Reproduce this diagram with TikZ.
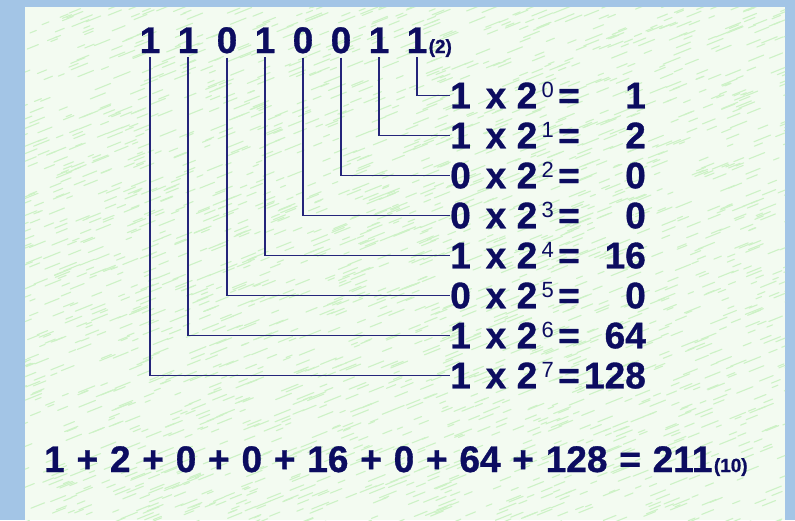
\documentclass[tikz,border=0pt]{standalone}
\usepackage{fontspec}
\setmainfont{Liberation Sans}
\newfontfamily\heavyfont{Liberation Sans Bold}[FakeBold=0.9]
\definecolor{navy}{HTML}{0C0C60}
\definecolor{wirecol}{HTML}{24247A}
\definecolor{framecol}{HTML}{A3C5E6}
\definecolor{paper}{HTML}{F3FBF1}
\definecolor{streak}{HTML}{CDF2C6}
\newcommand\eqgap{\hspace{11.8pt}}
\begin{document}
\begin{tikzpicture}[x=1pt,y=-1pt,
  txt/.style={inner sep=0pt, text=navy, font=\fontsize{37}{40}\heavyfont},
  bitnode/.style={txt, anchor=base},
  coef/.style={txt, anchor=base west},
  midtxt/.style={txt, anchor=base},
  rowval/.style={txt, anchor=base east},
  supnode/.style={inner sep=0pt, text=navy, font=\fontsize{22}{24}\selectfont, anchor=base west},
  subnote/.style={inner sep=0pt, text=navy, font=\fontsize{19}{20}\heavyfont, anchor=base west},
  wire/.style={draw=wirecol, line width=1.6pt}
]
\useasboundingbox (0,0) rectangle (795,520);
\fill[framecol] (0,0) rectangle (795,520);
\fill[paper] (25,7) rectangle (785,520);
\begin{scope}
  \clip (25,7) rectangle (785,520);
  \pgfmathsetseed{7}
  \foreach \k in {1,...,2600}{
    \pgfmathsetmacro\xa{15+780*rnd}
    \pgfmathsetmacro\ya{7+530*rnd}
    \pgfmathsetmacro\len{5+12*rnd}
    \draw[streak, line width=1.1pt, line cap=round] (\xa,\ya) -- ++(\len,-0.4*\len);
  }
\end{scope}

% binary digits
\foreach \d/\x/\n in {1/150/b7, 1/188/b6, 0/227/b5, 1/265/b4, 0/303/b3, 0/341/b2, 1/379/b1, 1/417/b0}
  \node[bitnode, name=\n] at (\x,53) {\d};
\node[subnote] (base2) at ([xshift=1pt]b0.base east) {(2)};

% rows
\foreach \i/\b/\v in {0/1/1, 1/1/2, 2/0/0, 3/0/0, 4/1/16, 5/0/0, 6/1/64, 7/1/128}{
  \pgfmathsetmacro\yy{95+40*\i+13.3}
  \pgfmathsetmacro\ys{\yy-10.8}
  \node[coef] (r\i) at (450,\yy) {\b};
  \node[midtxt] (x\i) at (496,\yy) {x};
  \node[midtxt] (t\i) at (527,\yy) {2};
  \node[supnode] (s\i) at (541.5,\ys) {\i};
  \node[midtxt] (e\i) at (569,\yy) {=};
  \node[rowval] (v\i) at (646,\yy) {\v};
  \draw[wire] ([yshift=-4pt]b\i.south) |- (r\i.west);
}

% sum
\node[txt, anchor=base west] (sum) at (44,472)
  {1\eqgap+\eqgap2\eqgap+\eqgap0\eqgap+\eqgap0\eqgap+\eqgap16\eqgap+\eqgap0\eqgap+\eqgap64\eqgap+\eqgap128\eqgap=\eqgap211};
\node[subnote] (base10) at ([xshift=1pt]sum.base east) {(10)};
\end{tikzpicture}
\end{document}
